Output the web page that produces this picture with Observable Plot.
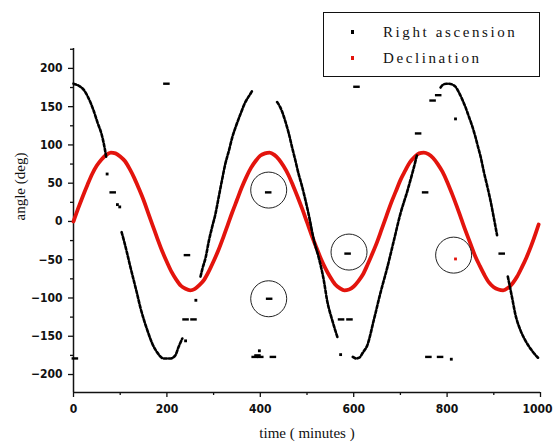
<!DOCTYPE html>
<html><head><meta charset="utf-8">
<script src="https://cdn.jsdelivr.net/npm/d3@7"></script>
<script src="https://cdn.jsdelivr.net/npm/@observablehq/plot@0.6"></script>
<style>
html,body{margin:0;padding:0;background:#fff;}
#wrap{position:relative;width:553px;height:445px;}
#legend{position:absolute;left:323px;top:12px;width:217px;height:65px;border:1px solid #111;box-sizing:border-box;background:#fff;font-family:"Liberation Serif",serif;font-size:15px;letter-spacing:2.6px;color:#111;}
#legend .row{position:absolute;left:0;height:20px;line-height:20px;}
#legend .sw{position:absolute;left:27px;top:8px;width:3px;height:4px;}
#legend .tx{position:absolute;left:59px;top:0;white-space:nowrap;}
</style>
</head><body>
<div id="wrap"></div>
<script>
// Tick values
const yTicks = [-200, -150, -100, -50, 0, 50, 100, 150, 200];
const yMinor = [-225, -175, -125, -75, -25, 25, 75, 125, 175, 225];
const xTicks = [0, 200, 400, 600, 800, 1000];
const xMinor = [100, 300, 500, 700, 900];
const yDomain = [-223.5, 226];
const xDomain = [0, 1000];

// Series labels
const seriesNames = ["Right ascension", "Declination"];

// Right ascension (continuous runs of dots), time in minutes, angle in degrees
const raT = [0,5,12,22,33,43,51,61,67,70,
  103,108,115,122,129,136,143,151,158,169,179,193,208,218,225,233,
  272,276,283,290,297,304,311,318,325,333,340,347,358,368,376,383,
  436,442,447,455,461,468,475,482,488,497,505,515,525,536,543,554,565,
  598,605,612,620,629,643,657,672,686,700,715,729,736,
  786,792,798,804,811,818,825,832,839,846,853,860,866,872,879,886,893,900,907,
  930,939,946,957,968,982,996];
const raV = [180,179,177,172,160,145,130,112,95,84,
  -14,-25,-42,-60,-77,-94,-112,-129,-142,-160,-171,-179,-179,-175,-164,-153,
  -72,-62,-47,-25,-7,10,32,54,75,93,110,123,141,156,164,171,
  156,150,143,128,115,97,80,62,49,27,5,-25,-47,-77,-103,-129,-151,
  -177,-179,-178,-171,-162,-129,-94,-60,-25,10,40,71,88,
  175,179,180,180,179,176,169,160,150,138,126,112,98,84,64,46,27,5,-18,
  -72,-99,-121,-142,-156,-169,-179];
const raSeg = [1,1,1,1,1,1,1,1,1,1,
  2,2,2,2,2,2,2,2,2,2,2,2,2,2,2,2,
  3,3,3,3,3,3,3,3,3,3,3,3,3,3,3,3,
  4,4,4,4,4,4,4,4,4,4,4,4,4,4,4,4,4,
  5,5,5,5,5,5,5,5,5,5,5,5,5,
  6,6,6,6,6,6,6,6,6,6,6,6,6,6,6,6,6,6,6,
  7,7,7,7,7,7,7];

// Right ascension isolated dots
const dotT = [72, 94, 99, 240, 262, 398, 572, 818, 809];
const dotV = [62, 22, 19, -156, -103, -169, -174, 134, -180];

// Right ascension stray short dashes
const dashT = [200, 4, 85, 244, 241, 258, 418, 420, 389, 401, 395, 428, 607, 588, 574, 592, 739, 754, 770, 782, 761, 786, 918];
const dashV = [180, -179, 38, -44, -128, -128, 38, -101, -177, -177, -175, -177, 176, -42, -128, -128, 115, 38, 158, 165, -177, -177, -42];

// Circled points
const circT = [418, 418, 590, 814];
const circV = [41, -101, -40, -44];

// Declination red point inside circle
const decDotT = [818];
const decDotV = [-49];

// Declination, time in minutes, angle in degrees
const decT = [0,10,20,30,40,50,60,70,80,90,100,110,120,130,140,150,160,170,180,190,
  200,210,220,230,240,250,260,270,280,290,300,310,320,330,340,350,360,370,380,390,
  400,410,420,430,440,450,460,470,480,490,500,510,520,530,540,550,560,570,580,590,
  600,610,620,630,640,650,660,670,680,690,700,710,720,730,740,750,760,770,780,790,
  800,810,820,830,840,850,860,870,880,890,900,910,920,930,940,950,960,970,980,990,996];
const decV = [0,17,33,48,62,73,81,87,90,89,85,79,69,57,43,28,11,-6,-23,-39,
  -53,-66,-76,-84,-88,-90,-88,-83,-76,-65,-52,-38,-22,-5,12,28,44,58,70,79,
  86,89,90,87,81,72,61,47,32,16,-1,-18,-34,-49,-62,-73,-82,-87,-90,-89,
  -85,-78,-69,-56,-42,-27,-10,7,24,39,54,66,77,84,89,90,88,83,75,65,
  52,37,21,4,-13,-29,-45,-58,-70,-80,-86,-89,-90,-87,-81,-72,-60,-47,-32,-15,-4];

const ra = raT.map((t, i) => ({t, v: raV[i], seg: raSeg[i]}));
const dots = dotT.map((t, i) => ({t, v: dotV[i]}));
const dashes = dashT.map((t, i) => ({t, v: dashV[i]}));
const circles = circT.map((t, i) => ({t, v: circV[i]}));
const decDots = decDotT.map((t, i) => ({t, v: decDotV[i]}));
const dec = decT.map((t, i) => ({t, v: decV[i]}));

const RED = "#e3140d";
const fmt = d3.format("d");

const chart = Plot.plot({
  width: 553, height: 445,
  marginLeft: 73, marginRight: 13, marginTop: 48, marginBottom: 53,
  x: {domain: xDomain},
  y: {domain: yDomain},
  style: {fontFamily: "DejaVu Sans Condensed, DejaVu Sans", fontSize: "12px", background: "white", color: "#111"},
  marks: [
    Plot.axisY({ticks: yTicks, tickFormat: fmt, tickSize: 5, tickPadding: 6, label: null, fontWeight: "bold", strokeWidth: 1.3}),
    Plot.axisY({ticks: yMinor.filter(d => d > yDomain[0] && d < yDomain[1]), tickSize: 3, tickFormat: () => "", label: null, strokeWidth: 1.3}),
    Plot.axisX({ticks: xTicks, tickFormat: fmt, tickSize: 5, tickPadding: 7, label: null, fontWeight: "bold", strokeWidth: 1.3}),
    Plot.axisX({ticks: xMinor, tickSize: 3, tickFormat: () => "", label: null, strokeWidth: 1.3}),
    Plot.ruleX([xDomain[0]], {stroke: "#111", strokeWidth: 1.5}),
    Plot.ruleY([yDomain[0]], {stroke: "#111", strokeWidth: 1.5}),
    Plot.line(dec, {x: "t", y: "v", stroke: RED, strokeWidth: 3.8, curve: "monotone-x"}),
    Plot.dot(circles, {x: "t", y: "v", r: 18, stroke: "#222", strokeWidth: 1, fill: "none"}),
    Plot.line(ra, {x: "t", y: "v", z: "seg", stroke: "#000", strokeWidth: 2.6, strokeDasharray: "3,2", curve: "monotone-x"}),
    Plot.dot(dots, {x: "t", y: "v", r: 1.6, symbol: "square", fill: "#000"}),
    Plot.ruleY(dashes, {y: "v", x1: d => d.t - 7, x2: d => d.t + 7, stroke: "#000", strokeWidth: 2.4}),
    Plot.dot(decDots, {x: "t", y: "v", r: 1.6, symbol: "square", fill: RED}),
    Plot.text(["time ( minutes )"], {frameAnchor: "bottom", dy: 45, fontFamily: "Liberation Serif", fontSize: 15, fill: "#111", ariaLabel: "xtitle"}),
    Plot.text(["angle (deg)"], {frameAnchor: "left", dx: -53, rotate: -90, fontFamily: "Liberation Serif", fontSize: 15, fill: "#111", ariaLabel: "ytitle"})
  ]
});
d3.select(chart).selectAll('g[aria-label="xtitle"] text').style("letter-spacing", "1px");
d3.select(chart).selectAll('g[aria-label="ytitle"] text').style("letter-spacing", "3px");
// keep the last x tick label inside the picture
d3.select(chart).selectAll("text").filter(function() { return this.textContent.trim() === "1000"; }).attr("text-anchor", "end").attr("dx", 12);

const wrap = document.getElementById("wrap");
wrap.appendChild(chart);

const legend = document.createElement("div");
legend.id = "legend";
const colors = ["#000", RED];
const tops = [9, 35];
seriesNames.forEach((name, i) => {
  const row = document.createElement("div");
  row.className = "row";
  row.style.top = tops[i] + "px";
  row.style.width = "100%";
  const sw = document.createElement("div");
  sw.className = "sw";
  sw.style.background = colors[i];
  const tx = document.createElement("div");
  tx.className = "tx";
  tx.textContent = name;
  row.appendChild(sw);
  row.appendChild(tx);
  legend.appendChild(row);
});
wrap.appendChild(legend);
</script>
</body></html>
